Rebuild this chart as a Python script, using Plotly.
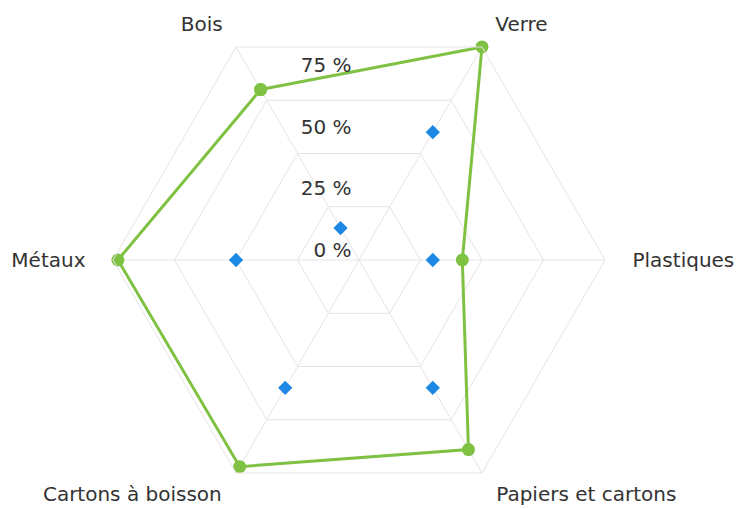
import plotly.graph_objects as go

categories = ["Bois", "Verre", "Plastiques", "Papiers et cartons", "Cartons à boisson", "Métaux"]
green_values = [80, 100, 42, 89, 97, 98]
blue_values = [15, 60, 30, 60, 60, 50]
radial_tickvals = [0, 25, 50, 75]
radial_ticktext = ["0 %", "25 %", "50 %", "75 %"]
top_labels = ["Bois", "Verre"]
side_labels = ["Plastiques", "Métaux"]
bottom_labels = ["Papiers et cartons", "Cartons à boisson"]

GREEN = "#7fc143"
BLUE = "#1e88e5"
GRID = "#e4e4e4"
TEXT = "#333333"
FONT = "DejaVu Sans"
FS = 20
CLEAR = "rgba(0,0,0,0)"

fig = go.Figure()
fig.add_trace(go.Scatterpolar(
    r=green_values + green_values[:1],
    theta=categories + categories[:1],
    mode="lines+markers",
    line=dict(color=GREEN, width=3),
    marker=dict(color=GREEN, size=13, symbol="circle"),
    showlegend=False,
))
fig.add_trace(go.Scatterpolar(
    r=blue_values,
    theta=categories,
    mode="markers",
    marker=dict(color=BLUE, size=11, symbol="diamond"),
    showlegend=False,
))
# helper subplots that only carry text labels
for sp in ["polar2", "polar3", "polar4"]:
    fig.add_trace(go.Scatterpolar(r=green_values, theta=categories, mode="none",
                                  subplot=sp, showlegend=False, hoverinfo="skip"))

W, H = 737, 509
cx, cy, R = 359, 260, 246

def dom(r, dx=0, dy=0):
    x0 = cx + dx
    y0 = H - (cy + dy)
    return dict(x=[(x0 - r) / W, (x0 + r) / W], y=[(y0 - r) / H, (y0 + r) / H])

def label_polar(r, dy, ticklen, vals):
    return dict(
        domain=dom(r, 0, dy),
        bgcolor=CLEAR,
        angularaxis=dict(
            type="category", categoryorder="array", categoryarray=categories,
            rotation=120, direction="clockwise",
            tickmode="array", tickvals=vals, ticktext=vals,
            showline=False, showgrid=False,
            ticks="outside", ticklen=ticklen, tickcolor=CLEAR,
            tickfont=dict(family=FONT, size=FS, color=TEXT),
        ),
        radialaxis=dict(visible=False, range=[0, 100]),
    )

fig.update_layout(
    width=W, height=H,
    margin=dict(l=0, r=0, t=0, b=0),
    paper_bgcolor="white",
    font=dict(family=FONT, size=FS, color=TEXT),
    polar=dict(
        domain=dom(R),
        bgcolor="white",
        gridshape="linear",
        angularaxis=dict(
            type="category",
            categoryorder="array",
            categoryarray=categories,
            rotation=120,
            direction="clockwise",
            tickmode="array",
            tickvals=categories,
            ticktext=[c if c in side_labels else "" for c in categories],
            showline=True,
            linecolor=GRID,
            linewidth=1,
            gridcolor=GRID,
            ticks="outside",
            ticklen=23,
            tickcolor=CLEAR,
            tickfont=dict(family=FONT, size=FS, color=TEXT),
        ),
        radialaxis=dict(
            range=[0, 100],
            tickvals=[25, 50, 75],
            showticklabels=False,
            showline=False,
            gridcolor=GRID,
            ticks="",
        ),
    ),
    polar2=dict(
        domain=dom(R, -4, -10),
        bgcolor=CLEAR,
        angularaxis=dict(visible=False),
        radialaxis=dict(
            range=[0, 100],
            angle=90,
            side="counterclockwise",
            tickangle=90,
            tickvals=radial_tickvals,
            ticktext=radial_ticktext,
            showgrid=False,
            showline=False,
            ticks="",
            tickfont=dict(family=FONT, size=FS, color=TEXT),
        ),
    ),
    polar3=label_polar(220, 6.7, 48, top_labels),
    polar4=label_polar(220, -17.4, 50, bottom_labels),
)

fig.write_html("out.html", config={"displayModeBar": False},
               post_script="document.body.style.margin='0';")
